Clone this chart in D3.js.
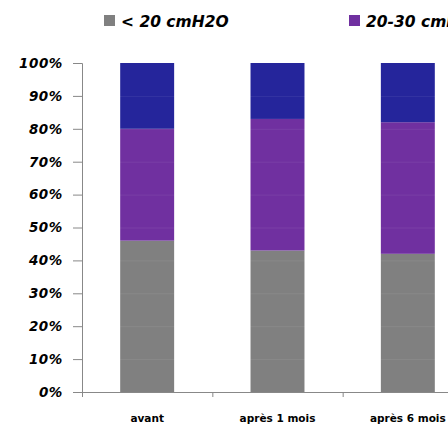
<!DOCTYPE html>
<html>
<head>
<meta charset="utf-8">
<script src="https://cdn.jsdelivr.net/npm/d3@7"></script>
<style>
  html, body { margin: 0; padding: 0; background: #fff; }
  svg { display: block; }
  text { font-family: "DejaVu Sans", sans-serif; font-weight: bold; font-style: italic; fill: #000; }
</style>
</head>
<body>
<svg id="chart" width="448" height="428"></svg>
<script>
// Pressure groups, stacked per period (share of patients, %)
const categories = ["avant", "après 1 mois", "après 6 mois"];
const seriesNames = ["< 20 cmH2O", "20-30 cmH2O", "> 30 cmH2O"];
const below20 = [46, 43, 42];
const between20and30 = [34, 40, 40];
const above30 = [20, 17, 18];
const yTicks = [0, 10, 20, 30, 40, 50, 60, 70, 80, 90, 100];
const colors = ["#808080", "#7030a0", "#25259b"];

const rows = categories.map((c, i) => ({
  cat: c,
  [seriesNames[0]]: below20[i],
  [seriesNames[1]]: between20and30[i],
  [seriesNames[2]]: above30[i]
}));

const svg = d3.select("#chart");
const plotLeft = 82, plotRight = 473, plotTop = 63, plotBottom = 392;

const x = d3.scaleBand().domain(categories).range([plotLeft, plotRight])
  .paddingInner(0.586).paddingOuter(0.293);
const y = d3.scaleLinear().domain([0, 100]).range([plotBottom, plotTop]);
const color = d3.scaleOrdinal().domain(seriesNames).range(colors);

const stack = d3.stack().keys(seriesNames)(rows);

// Bars
svg.append("g").selectAll("g").data(stack).join("g")
  .attr("fill", d => color(d.key))
  .selectAll("rect").data(d => d).join("rect")
  .attr("x", d => x(d.data.cat))
  .attr("width", x.bandwidth())
  .attr("y", d => y(d[1]))
  .attr("height", d => y(d[0]) - y(d[1]));

// Faint gridlines, only noticeable over the bars
svg.append("g").selectAll("line").data(yTicks.slice(1, -1)).join("line")
  .attr("x1", plotLeft).attr("x2", 448)
  .attr("y1", d => y(d) + 0.5).attr("y2", d => y(d) + 0.5)
  .attr("stroke", "#fff").attr("stroke-opacity", 0.07);

// Y axis
const yAxis = svg.append("g").attr("transform", `translate(${plotLeft},0)`)
  .call(d3.axisLeft(y).tickValues(yTicks).tickFormat(d => d + "%").tickSize(9).tickPadding(10));
yAxis.select(".domain").attr("stroke", "#888");
yAxis.selectAll(".tick line").attr("stroke", "#888");
yAxis.selectAll("text").attr("font-size", 13.5).attr("letter-spacing", 0.6);

// X axis
const xAxis = svg.append("g").attr("transform", `translate(0,${plotBottom})`)
  .call(d3.axisBottom(x).tickSize(0).tickPadding(23));
xAxis.select(".domain").attr("stroke", "#888").attr("d", `M${plotLeft - 9},0.5H448`);
xAxis.selectAll("text").attr("font-size", 10.5).style("font-style", "normal");
const boundaries = categories.map(c => x(c) - x.step() * x.paddingInner() / 2);
boundaries[0] = plotLeft;
xAxis.append("g").selectAll("line").data(boundaries).join("line")
  .attr("x1", d => d + 0.5).attr("x2", d => d + 0.5)
  .attr("y1", 0).attr("y2", 5).attr("stroke", "#888");

// Legend
const legendX = [104, 349, 594];
const legend = svg.append("g").selectAll("g").data(seriesNames).join("g")
  .attr("transform", (d, i) => `translate(${legendX[i]},15)`);
legend.append("rect").attr("width", 11).attr("height", 11).attr("fill", d => color(d));
legend.append("text").attr("x", 17).attr("y", 11.5).attr("font-size", 15.5).text(d => d);
</script>
</body>
</html>
